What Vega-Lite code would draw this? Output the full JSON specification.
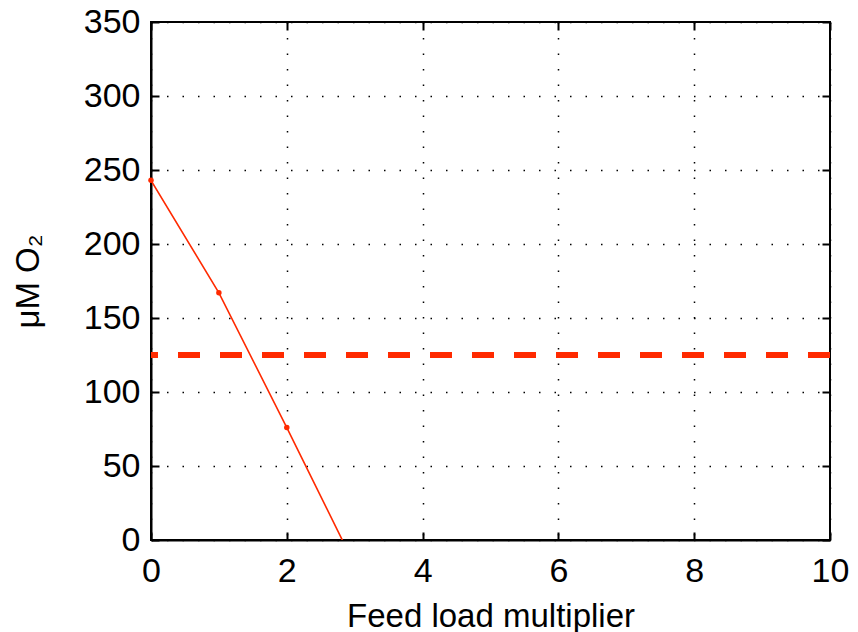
{
  "$schema": "https://vega.github.io/schema/vega-lite/v6.json",
  "width": 679,
  "height": 518,
  "autosize": {"type": "none"},
  "padding": {"left": 151, "top": 22, "right": 28, "bottom": 92},
  "background": "white",
  "config": {
    "font": "Liberation Sans",
    "view": {"stroke": "black", "strokeWidth": 2},
    "axis": {
      "labelFont": "Liberation Sans",
      "titleFont": "Liberation Sans",
      "labelFontSize": 34,
      "titleFontSize": 33,
      "titleFontWeight": "normal",
      "labelColor": "black",
      "titleColor": "black",
      "domainColor": "black",
      "domainWidth": 2,
      "tickColor": "black",
      "tickWidth": 2,
      "tickSize": -8,
      "gridColor": "black",
      "gridDash": [1.5, 14],
      "gridWidth": 1.5,
      "gridOpacity": 1,
      "format": "d"
    }
  },
  "datasets": {
    "curve": [
      {"load": 0, "o2": 243},
      {"load": 1, "o2": 167},
      {"load": 2, "o2": 76},
      {"load": 3, "o2": -17}
    ],
    "limit": [{"o2": 125}]
  },
  "layer": [
    {
      "layer": [
        {
          "data": {"name": "curve"},
          "mark": {"type": "line", "color": "#FF2A00", "strokeWidth": 1.6, "clip": true},
          "encoding": {
            "x": {"field": "load", "type": "quantitative", "scale": {"domain": [0, 10], "nice": false},
                  "axis": {"values": [0, 2, 4, 6, 8, 10], "title": "Feed load multiplier", "labelPadding": 22, "titlePadding": 12, "labelFlush": false}},
            "y": {"field": "o2", "type": "quantitative", "scale": {"domain": [0, 350], "nice": false},
                  "axis": {"values": [0, 50, 100, 150, 200, 250, 300, 350], "title": "μM O₂", "labelPadding": 19, "titlePadding": 38, "labelFlush": false}}
          }
        },
        {
          "data": {"name": "curve"},
          "transform": [{"filter": "datum.o2 >= 0"}],
          "mark": {"type": "point", "filled": true, "color": "#FF2A00", "size": 30, "opacity": 1},
          "encoding": {
            "x": {"field": "load", "type": "quantitative"},
            "y": {"field": "o2", "type": "quantitative"}
          }
        },
        {
          "data": {"name": "limit"},
          "mark": {"type": "rule", "color": "#FF2A00", "strokeWidth": 6, "strokeDash": [22, 20]},
          "encoding": {
            "y": {"field": "o2", "type": "quantitative"}
          }
        }
      ]
    },
    {
      "data": {"name": "curve"},
      "mark": {"type": "point", "opacity": 0},
      "encoding": {
        "x": {"field": "load", "type": "quantitative", "scale": {"domain": [0, 10], "nice": false},
              "axis": {"orient": "top", "values": [0, 2, 4, 6, 8, 10], "labels": false, "title": null, "grid": false, "domain": false, "ticks": true}},
        "y": {"field": "o2", "type": "quantitative", "scale": {"domain": [0, 350], "nice": false},
              "axis": {"orient": "right", "values": [0, 50, 100, 150, 200, 250, 300, 350], "labels": false, "title": null, "grid": false, "domain": false, "ticks": true}}
      }
    }
  ],
  "resolve": {"axis": {"x": "independent", "y": "independent"}}
}
